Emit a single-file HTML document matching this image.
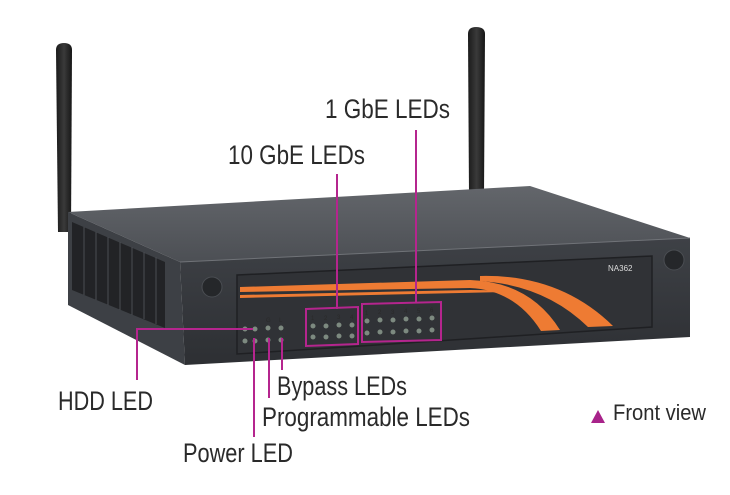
<!DOCTYPE html>
<html><head><meta charset="utf-8"><style>
html,body{margin:0;padding:0;background:#fff;width:730px;height:495px;overflow:hidden}
text{font-family:"Liberation Sans",sans-serif;fill:#2a2a2a}
</style></head><body>
<svg width="730" height="495" viewBox="0 0 730 495" xmlns="http://www.w3.org/2000/svg">
<defs>
<linearGradient id="top" x1="0" y1="0" x2="0" y2="1"><stop offset="0" stop-color="#63666b"/><stop offset="1" stop-color="#4c4f54"/></linearGradient>
<linearGradient id="front" x1="0" y1="0" x2="0" y2="1"><stop offset="0" stop-color="#3e4146"/><stop offset="1" stop-color="#2d2f33"/></linearGradient>
<linearGradient id="ant" x1="0" y1="0" x2="1" y2="0"><stop offset="0" stop-color="#1a1a1a"/><stop offset=".5" stop-color="#3a3a3a"/><stop offset="1" stop-color="#161616"/></linearGradient>
</defs>
<path d="M56,50 Q56,43 64,43 Q72,43 72,50 L71,232 L58,232 Z" fill="url(#ant)"/>
<path d="M468,34 Q468,27 476,27 Q485,27 485,34 L484,195 L469,195 Z" fill="url(#ant)"/>
<polygon points="68,212 530,186 690,238 180,262" fill="url(#top)"/>
<polygon points="68,212 180,262 185,365 68,305" fill="#3d4045"/>
<polygon points="72,222 165,262 165,328 72,290" fill="#222326"/>
<g stroke="#4a4d52" stroke-width="1">
<line x1="84" y1="227" x2="84" y2="295"/><line x1="96" y1="232" x2="96" y2="300"/><line x1="108" y1="237" x2="108" y2="305"/><line x1="120" y1="242" x2="120" y2="310"/><line x1="132" y1="247" x2="132" y2="315"/><line x1="144" y1="252" x2="144" y2="319"/><line x1="156" y1="257" x2="156" y2="324"/>
</g>
<polygon points="180,262 690,238 690,337 185,365" fill="url(#front)"/>
<line x1="180" y1="262" x2="690" y2="238" stroke="#707378" stroke-width="1"/>
<polygon points="237,275 652,256 652,327 237,354" fill="#303236" stroke="#1f2023" stroke-width="1.5"/>
<path d="M240,287 L470,280 Q530,282 560,330 L541,331 Q515,290 470,288 L240,292 Z" fill="#ee7b33"/>
<path d="M240,295 L470,290 Q500,290 505,292 L240,298 Z" fill="#ee7b33"/>
<path d="M480,276 Q560,274 613,326 L588,327 Q545,285 480,281 Z" fill="#ee7b33"/>
<text x="608" y="271" font-size="8" style="fill:#ddd">NA362</text>
<circle cx="212" cy="287" r="10" fill="#25272a" stroke="#4a4d52"/>
<circle cx="674" cy="260" r="10" fill="#25272a" stroke="#4a4d52"/>
<g font-size="6" style="fill:#aaa">
<text x="311" y="320">1</text><text x="324" y="320">2</text><text x="337" y="319">3</text><text x="350" y="319">4</text>
<text x="365" y="315">1</text><text x="378" y="314">2</text><text x="391" y="314">3</text><text x="404" y="313">4</text><text x="417" y="313">5</text><text x="430" y="312">6</text>
<text x="266" y="322">G</text><text x="279" y="322">L</text>
</g>
<g fill="#7d8a80">
<circle cx="245" cy="329" r="2.5"/><circle cx="255" cy="329" r="2.5"/><circle cx="268" cy="328" r="2.5"/><circle cx="281" cy="328" r="2.5"/>
<circle cx="245" cy="341" r="2.5"/><circle cx="255" cy="341" r="2.5"/><circle cx="268" cy="340" r="2.5"/><circle cx="281" cy="340" r="2.5"/>
<circle cx="313" cy="326" r="2.5"/><circle cx="326" cy="326" r="2.5"/><circle cx="339" cy="325" r="2.5"/><circle cx="352" cy="325" r="2.5"/>
<circle cx="313" cy="337" r="2.5"/><circle cx="326" cy="337" r="2.5"/><circle cx="339" cy="336" r="2.5"/><circle cx="352" cy="336" r="2.5"/>
<circle cx="367" cy="321" r="2.5"/><circle cx="380" cy="320" r="2.5"/><circle cx="393" cy="320" r="2.5"/><circle cx="406" cy="319" r="2.5"/><circle cx="419" cy="319" r="2.5"/><circle cx="432" cy="318" r="2.5"/>
<circle cx="367" cy="333" r="2.5"/><circle cx="380" cy="332" r="2.5"/><circle cx="393" cy="332" r="2.5"/><circle cx="406" cy="331" r="2.5"/><circle cx="419" cy="331" r="2.5"/><circle cx="432" cy="330" r="2.5"/>
</g>
<g stroke="#b5258e" stroke-width="2" fill="none">
<line x1="337" y1="174" x2="337" y2="309"/>
<line x1="416" y1="130" x2="416" y2="303"/>
<polygon points="306,309 358,307 358,344 306,346"/>
<polygon points="362,304 441,302 441,340 362,342"/>
<polyline points="253,329 137,329 137,380"/>
<line x1="254" y1="338" x2="254" y2="437"/>
<line x1="269" y1="338" x2="269" y2="398"/>
<line x1="282" y1="338" x2="282" y2="370"/>
</g>
<text x="325" y="118" font-size="27" textLength="125" lengthAdjust="spacingAndGlyphs">1 GbE  LEDs</text>
<text x="228" y="164" font-size="27" textLength="137" lengthAdjust="spacingAndGlyphs">10 GbE  LEDs</text>
<text x="58" y="410" font-size="27" textLength="95" lengthAdjust="spacingAndGlyphs">HDD LED</text>
<text x="277" y="395" font-size="27" textLength="130" lengthAdjust="spacingAndGlyphs">Bypass LEDs</text>
<text x="262" y="426" font-size="27" textLength="208" lengthAdjust="spacingAndGlyphs">Programmable LEDs</text>
<text x="183" y="462" font-size="27" textLength="110" lengthAdjust="spacingAndGlyphs">Power LED</text>
<polygon points="591,423 598,410 605,423" fill="#a8238a"/>
<text x="613" y="420" font-size="22" textLength="93" lengthAdjust="spacingAndGlyphs">Front view</text>
</svg>
</body></html>
